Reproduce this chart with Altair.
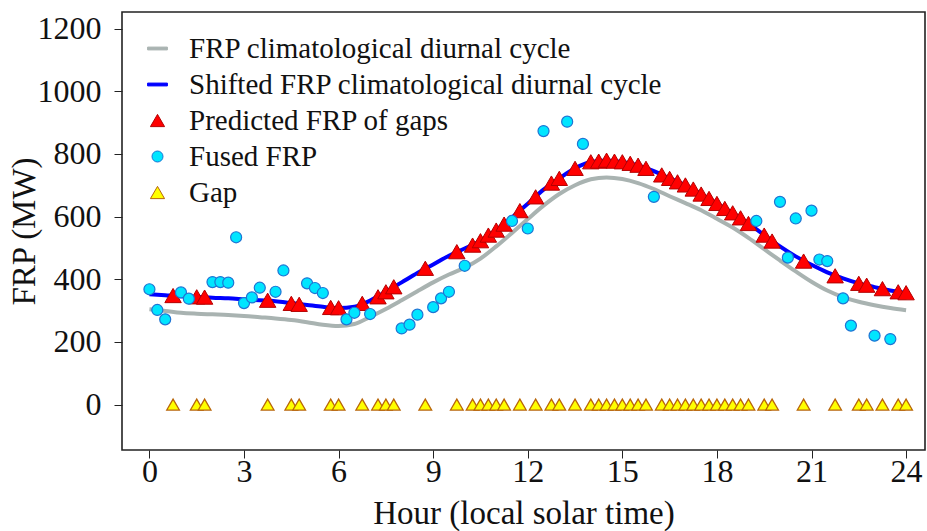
import altair as alt
import pandas as pd

series_names = [
    "FRP climatological diurnal cycle",
    "Shifted FRP climatological diurnal cycle",
    "Predicted FRP of gaps",
    "Fused FRP",
    "Gap",
]

clim_hours = [0, 0.5, 1, 1.5, 2, 2.5, 3, 3.5, 4, 4.5, 5, 5.5, 6, 6.5, 7, 7.5, 8, 8.5, 9, 9.5,
              10, 10.5, 11, 11.5, 12, 12.5, 13, 13.5, 14, 14.5, 15, 15.5, 16, 16.5, 17, 17.5,
              18, 18.5, 19, 19.5, 20, 20.5, 21, 21.5, 22, 22.5, 23, 23.5, 24]
clim_frp = [304, 299, 293, 290, 288, 286, 283, 279, 275, 270, 263, 255, 251, 257, 280, 305,
            333, 362, 390, 415, 437, 466, 505, 548, 592, 635, 672, 700, 719, 725, 720, 707,
            688, 665, 643, 620, 593, 565, 532, 496, 460, 425, 392, 364, 343, 328, 317, 308, 301]

shift_hours = clim_hours
shift_frp = [352, 349, 346, 344, 341, 339, 336, 333, 330, 324, 318, 312, 308, 312, 332, 360,
             390, 420, 447, 475, 498, 523, 557, 597, 641, 686, 722, 754, 774, 779, 774, 763,
             745, 722, 700, 672, 642, 611, 578, 541, 505, 473, 446, 422, 403, 387, 375, 364, 356]

gap_hours = [0.75, 1.5, 1.75, 3.75, 4.5, 4.75, 5.75, 6.0, 6.75, 7.25, 7.5, 7.75, 8.75, 9.75,
             10.25, 10.5, 10.75, 11.0, 11.25, 11.75, 12.25, 12.75, 13.0, 13.5, 14.0, 14.25,
             14.5, 14.75, 15.0, 15.25, 15.5, 15.75, 16.25, 16.5, 16.75, 17.0, 17.25, 17.5,
             17.75, 18.0, 18.25, 18.5, 18.75, 19.0, 19.5, 19.75, 20.75, 21.75, 22.5, 22.75,
             23.25, 23.75, 24.0]
pred_frp = [348, 344, 343, 333, 323, 320, 310, 309, 323, 344, 360, 376, 435, 488,
            509, 523, 541, 557, 576, 619, 663, 707, 722, 754, 775, 777,
            780, 777, 775, 770, 764, 754, 733, 722, 711, 701, 688, 672,
            658, 642, 626, 612, 596, 578, 541, 522, 458, 411, 387, 381,
            370, 360, 357]

fused_hours = [0.0, 0.25, 0.5, 1.0, 1.25, 2.0, 2.25, 2.5, 2.75, 3.0, 3.25, 3.5, 4.0, 4.25,
               5.0, 5.25, 5.5, 6.25, 6.5, 7.0, 8.0, 8.25, 8.5, 9.0, 9.25, 9.5, 10.0, 11.5,
               12.0, 12.5, 13.25, 13.75, 16.0, 19.25, 20.0, 20.25, 20.5, 21.0, 21.25, 21.5,
               22.0, 22.25, 23.0, 23.5]
fused_frp = [368, 302, 272, 358, 338, 391, 391, 389, 534, 324, 342, 373, 360, 428,
             387, 372, 356, 272, 293, 289, 243, 255, 287, 311, 339, 360, 443, 586,
             562, 873, 903, 832, 663, 586, 647, 469, 594, 619, 463, 458,
             339, 252, 220, 209]

x_ticks = [0, 3, 6, 9, 12, 15, 18, 21, 24]
y_ticks = [0, 200, 400, 600, 800, 1000, 1200]

fill_range = ["#a9b3b1", "#0000ff", "#ff0000", "#00e5ff", "#ffff00"]
stroke_range = ["#a9b3b1", "#0000ff", "#b40000", "#1f74d4", "#b8650a"]
line_path = "M -1.4 -0.2 L 1.4 -0.2 L 1.4 0.2 L -1.4 0.2 Z"
circ_path = "M 0.78 0 A 0.78 0.78 0 1 1 -0.78 0 A 0.78 0.78 0 1 1 0.78 0 Z"
shape_range = [line_path, line_path, "triangle-up", circ_path, "triangle-up"]

clim_df = pd.DataFrame({"hour": clim_hours, "frp": clim_frp, "series": series_names[0]})
shift_df = pd.DataFrame({"hour": shift_hours, "frp": shift_frp, "series": series_names[1]})
pred_df = pd.DataFrame({"hour": gap_hours, "frp": pred_frp, "series": series_names[2]})
fused_df = pd.DataFrame({"hour": fused_hours, "frp": fused_frp, "series": series_names[3]})
gap_df = pd.DataFrame({"hour": gap_hours, "frp": [0] * len(gap_hours), "series": series_names[4]})

FONT = "Liberation Serif"

x_enc = alt.X("hour:Q", scale=alt.Scale(domain=[-0.87, 24.6], nice=False, zero=False),
              axis=alt.Axis(values=x_ticks, format="d", title="Hour (local solar time)"))
y_enc = alt.Y("frp:Q", scale=alt.Scale(domain=[-145, 1253], nice=False, zero=False),
              axis=alt.Axis(values=y_ticks, format="d", title="FRP (MW)"))

leg = alt.Legend(title=None)
fill_enc = alt.Fill("series:N", scale=alt.Scale(domain=series_names, range=fill_range), legend=leg)
stroke_enc = alt.Stroke("series:N", scale=alt.Scale(domain=series_names, range=stroke_range), legend=leg)
shape_enc = alt.Shape("series:N", scale=alt.Scale(domain=series_names, range=shape_range), legend=leg)

clim_line = alt.Chart(clim_df).mark_line(strokeWidth=4, interpolate="monotone").encode(
    x=x_enc, y=y_enc, stroke=stroke_enc)
shift_line = alt.Chart(shift_df).mark_line(strokeWidth=4, interpolate="monotone").encode(
    x=x_enc, y=y_enc, stroke=stroke_enc)
pred_pts = alt.Chart(pred_df).mark_point(filled=True, opacity=1, strokeWidth=1, size=270).encode(
    x=x_enc, y=y_enc, fill=fill_enc, stroke=stroke_enc, shape=shape_enc)
fused_pts = alt.Chart(fused_df).mark_point(filled=True, opacity=1, strokeWidth=1.2, size=200).encode(
    x=x_enc, y=y_enc, fill=fill_enc, stroke=stroke_enc, shape=shape_enc)
gap_pts = alt.Chart(gap_df).mark_point(filled=True, opacity=1, strokeWidth=1.3, size=160).encode(
    x=x_enc, y=y_enc, fill=fill_enc, stroke=stroke_enc, shape=shape_enc)

chart = alt.layer(clim_line, shift_line, pred_pts, fused_pts, gap_pts).properties(
    width=803, height=438,
    autosize=alt.AutoSizeParams(type="none"),
    padding={"left": 122, "top": 12, "right": 2, "bottom": 81},
).configure_view(
    stroke="#222222", strokeWidth=1.6
).configure_axis(
    grid=False, domain=False, tickColor="#222222", tickSize=8, tickWidth=1,
    labelFont=FONT, labelFontSize=32, labelColor="#111111",
    titleFont=FONT, titleFontSize=33, titleFontWeight="normal", titleColor="#111111",
).configure_axisX(
    labelPadding=-2, titlePadding=10
).configure_axisY(
    labelPadding=13, titlePadding=-4
).configure_legend(
    orient="none", legendX=21, legendY=22, padding=0,
    labelFont=FONT, labelFontSize=29, labelColor="#111111", labelOffset=17, labelLimit=0,
    rowPadding=6, symbolSize=200, symbolStrokeWidth=1,
)

chart.save("out.html", embed_options={"renderer": "svg", "actions": False})
